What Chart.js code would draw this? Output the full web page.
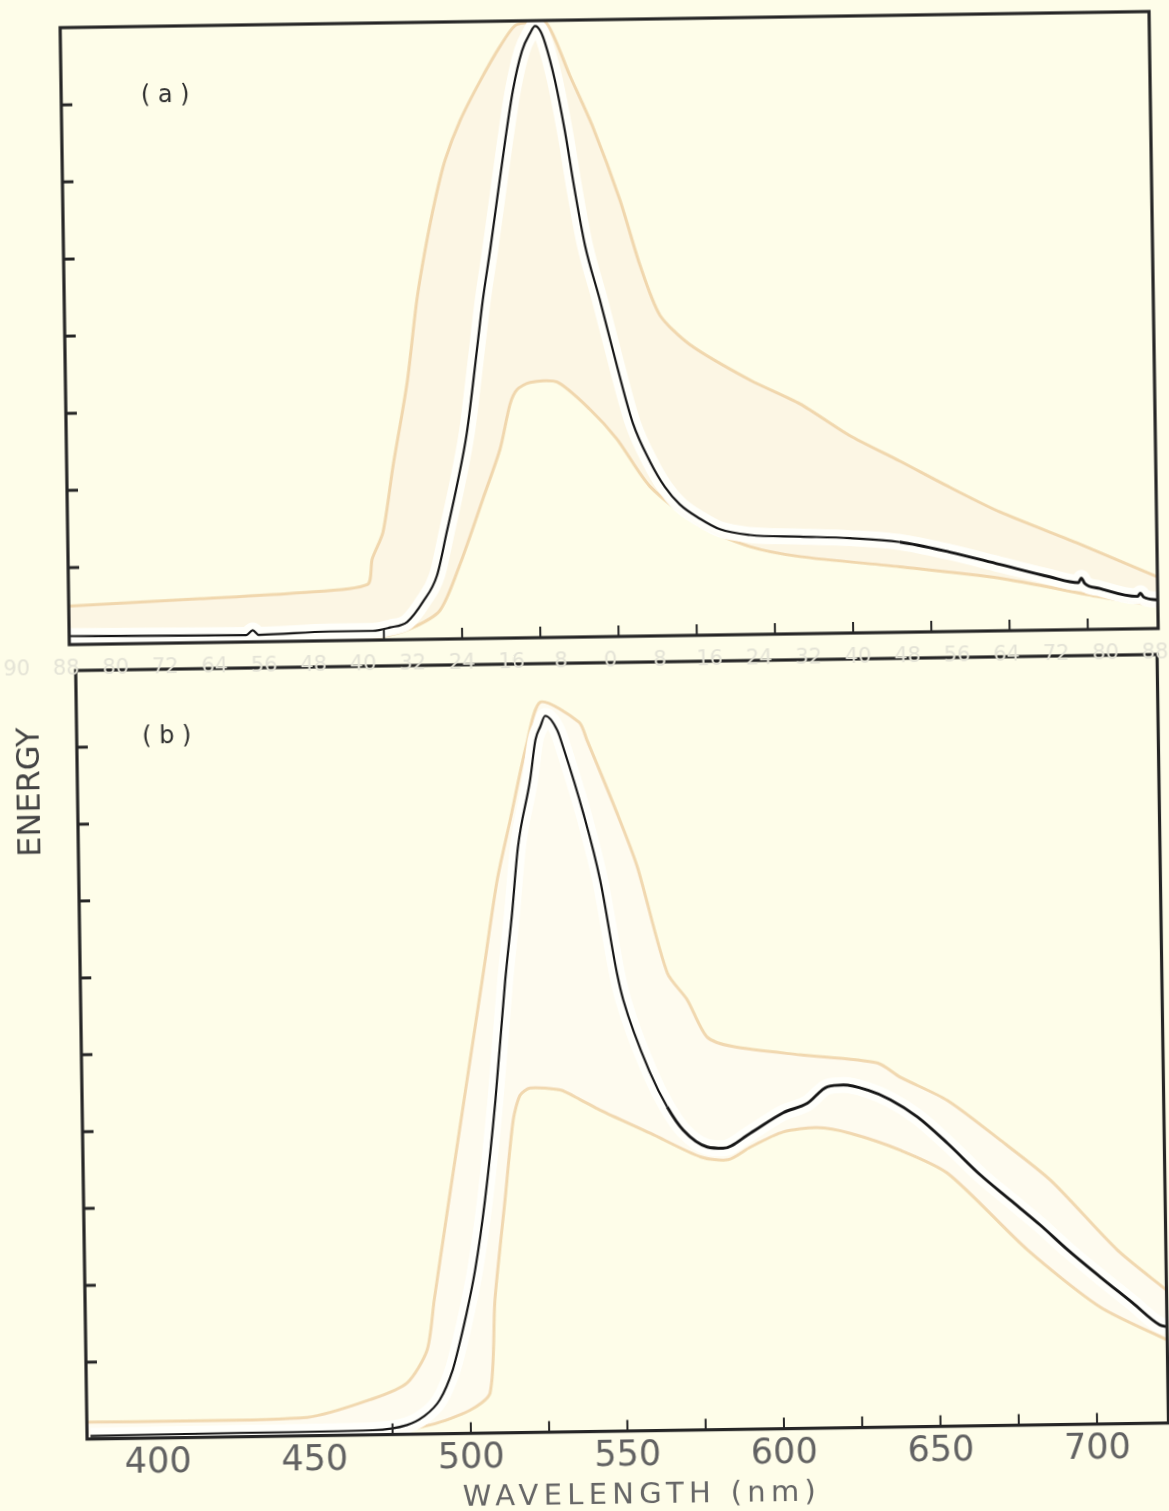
<!DOCTYPE html>
<html>
<head>
<meta charset="utf-8">
<script src="https://cdn.jsdelivr.net/npm/chart.js@4.4.1/dist/chart.umd.min.js"></script>
<style>
  body { margin: 0; background: #fefde9; }
  #fig { position: relative; width: 1169px; height: 1511px; transform: rotate(-0.85deg); transform-origin: 584px 755px; }
  canvas { position: absolute; left: 0; top: 0; }
  .lab { position: absolute; transform: translate(-50%, -50%); font-family: "DejaVu Sans", sans-serif; white-space: pre; }
  .ghost { position: absolute; transform: translate(-50%, -50%); font-family: "DejaVu Sans", sans-serif; font-size: 21px; color: #e4e3d6; }
</style>
</head>
<body>
<div id="fig">
  <canvas id="chartA" width="1169" height="660"></canvas>
  <canvas id="chartB" width="1169" height="1511"></canvas>
  <div class="lab" style="left:175px;top:88px;font-size:24px;color:#2e2e2e">( a )</div>
  <div class="lab" style="left:167px;top:729px;font-size:24px;color:#2e2e2e">( b )</div>
  <div class="lab" style="left:28px;top:784px;font-size:32px;color:#444;transform:translate(-50%,-50%) rotate(-90deg)">ENERGY</div>
  <div class="lab" style="left:631px;top:1494px;font-size:29px;color:#666;letter-spacing:5.3px">WAVELENGTH (nm)</div>
</div>
<script>
// panel (a)
const aWavelength = [374.6, 400.2, 431.0, 433.1, 435.0, 457.7, 471.5, 477.0, 482.5, 487.7, 492.2, 495.6, 499.0, 502.5, 506.1, 508.2, 510.8, 513.2, 516.1, 518.8, 521.9, 524.6, 526.2, 527.8, 529.3, 532.3, 535.2, 538.1, 541.1, 545.6, 550.8, 555.6, 560.9, 565.5, 570.2, 576.6, 582.9, 592.5, 608.5, 624.4, 640.3, 656.3, 672.2, 688.1, 697.2, 698.2, 699.2, 704.0, 716.0, 717.0, 718.0, 722.5];
const aEnergy = [0.11, 0.10, 0.09, 0.15, 0.09, 0.12, 0.12, 0.16, 0.23, 0.49, 0.82, 1.39, 1.98, 2.68, 3.75, 4.39, 5.04, 5.68, 6.45, 7.10, 7.61, 7.84, 7.93, 7.87, 7.71, 7.22, 6.57, 5.79, 5.08, 4.37, 3.50, 2.76, 2.26, 1.93, 1.70, 1.51, 1.37, 1.29, 1.26, 1.23, 1.17, 1.03, 0.86, 0.69, 0.61, 0.67, 0.60, 0.53, 0.42, 0.46, 0.41, 0.37];
const aUpperWl = [374.4, 416.4, 448.4, 469.9, 471.6, 475.2, 478.7, 483.6, 487.1, 490.0, 493.4, 496.8, 501.8, 508.4, 515.0, 519.8, 524.6, 530.0, 537.1, 544.2, 552.5, 558.6, 564.7, 574.2, 593.2, 609.1, 624.8, 640.7, 656.6, 672.5, 697.8, 722.5];
const aUpperEn = [0.50, 0.57, 0.63, 0.72, 1.05, 1.40, 2.25, 3.33, 4.40, 5.05, 5.69, 6.21, 6.72, 7.23, 7.68, 7.94, 7.98, 7.96, 7.28, 6.61, 5.66, 4.81, 4.16, 3.77, 3.30, 2.98, 2.56, 2.22, 1.87, 1.54, 1.11, 0.67];
const aLowerWl = [374.4, 460.9, 473.7, 483.4, 493.0, 499.7, 507.3, 513.0, 516.4, 518.7, 522.9, 531.5, 541.9, 550.4, 560.7, 576.5, 592.4, 608.4, 640.2, 672.2, 704.0, 722.5];
const aLowerEn = [0, 0, 0.04, 0.14, 0.37, 0.97, 1.81, 2.45, 3.03, 3.22, 3.31, 3.31, 2.95, 2.56, 1.94, 1.42, 1.14, 1.00, 0.85, 0.68, 0.42, 0.29];

// panel (b)
const bWavelength = [378.5, 426.3, 468.7, 479.6, 484.7, 490.2, 494.5, 496.3, 498.7, 502.1, 505.6, 509.4, 513.1, 515.6, 517.8, 522.0, 523.9, 525.5, 527.1, 530.9, 532.7, 538.8, 543.9, 548.8, 550.7, 559.0, 564.2, 569.3, 576.8, 581.9, 590.6, 601.2, 609.0, 615.5, 620.6, 628.2, 635.5, 644.1, 653.6, 664.0, 673.4, 682.8, 691.5, 701.8, 711.9, 720.4, 722.8];
const bEnergy = [0.04, 0.05, 0.06, 0.12, 0.22, 0.44, 0.83, 1.09, 1.48, 2.12, 3.03, 4.33, 5.89, 6.76, 7.62, 8.49, 9.01, 9.18, 9.32, 9.13, 8.91, 8.05, 7.17, 5.96, 5.61, 4.65, 4.21, 3.90, 3.68, 3.66, 3.85, 4.11, 4.23, 4.44, 4.46, 4.39, 4.26, 4.03, 3.68, 3.26, 2.93, 2.60, 2.27, 1.91, 1.57, 1.28, 1.25];
const bUpperWl = [377.4, 447.8, 468.9, 479.9, 486.4, 488.9, 494.1, 499.4, 506.1, 511.0, 515.5, 520.9, 525.7, 537.9, 540.3, 549.6, 555.8, 564.9, 571.1, 577.3, 585.6, 607.0, 631.5, 638.8, 653.7, 670.5, 686.3, 707.3, 722.8];
const bUpperEn = [0.22, 0.24, 0.47, 0.67, 1.09, 1.74, 3.04, 4.34, 5.98, 7.19, 7.98, 8.93, 9.50, 9.23, 9.00, 8.04, 7.34, 5.95, 5.60, 5.11, 4.98, 4.86, 4.74, 4.55, 4.24, 3.71, 3.18, 2.26, 1.73];
const bLowerWl = [377.4, 468.9, 487.3, 499.8, 506.3, 508.3, 512.0, 515.0, 517.3, 520.5, 530.1, 536.5, 542.8, 558.7, 574.8, 583.4, 590.6, 601.1, 612.0, 622.6, 638.5, 653.5, 678.6, 701.6, 722.8];
const bLowerEn = [0, 0, 0.12, 0.30, 0.52, 1.73, 3.03, 4.07, 4.39, 4.48, 4.45, 4.32, 4.18, 3.87, 3.55, 3.51, 3.67, 3.86, 3.91, 3.83, 3.60, 3.29, 2.28, 1.52, 1.08];

// axes
const xTicks = [475, 500, 525, 550, 575, 600, 625, 650, 675, 700];
const xTickLabels = [400, 450, 500, 550, 600, 650, 700];
const aYTicks = [1, 2, 3, 4, 5, 6, 7];
const bYTicks = [1, 2, 3, 4, 5, 6, 7, 8, 9];
const ghostLabels = ['90', '88', '80', '72', '64', '56', '48', '40', '32', '24', '16', '8', '0', '8', '16', '24', '32', '40', '48', '56', '64', '72', '80', '88'];

const pts = (xs, ys) => xs.map((x, i) => ({ x: x, y: ys[i] }));

// frame + inward ticks, placed with the chart's own scales
const framePlugin = {
  id: 'frame',
  afterDatasetsDraw(chart, args, opts) {
    const { ctx, chartArea: a, scales } = chart;
    ctx.save();
    ctx.strokeStyle = '#262626';
    ctx.lineWidth = 3.2;
    ctx.strokeRect(a.left, a.top, a.right - a.left, a.bottom - a.top);
    ctx.lineWidth = 3;
    ctx.beginPath();
    opts.yTicks.forEach(v => {
      const py = scales.y.getPixelForValue(v);
      ctx.moveTo(a.left, py); ctx.lineTo(a.left + 11, py);
    });
    ctx.stroke();
    ctx.lineWidth = 2;
    ctx.beginPath();
    opts.xTicks.forEach(v => {
      const px = scales.x.getPixelForValue(v);
      ctx.moveTo(px, a.bottom); ctx.lineTo(px, a.bottom - 11);
    });
    ctx.stroke();
    ctx.restore();
  }
};

// lower "order" is drawn on top; noisy part of the trace drawn a bit heavier
function makeDatasets(upWl, upEn, loWl, loEn, wl, en, bandColor, noisyFrom) {
  return [
    { order: 4, data: pts(upWl, upEn), borderColor: 'rgba(232,192,135,0.6)', borderWidth: 3, backgroundColor: bandColor, fill: '+1', tension: 0.25 },
    { order: 3, data: pts(loWl, loEn), borderColor: 'rgba(232,192,135,0.6)', borderWidth: 3, fill: false, tension: 0.25 },
    { order: 2, data: pts(wl, en), borderColor: 'rgba(255,255,251,0.95)', borderWidth: 16, fill: false, cubicInterpolationMode: 'monotone' },
    { order: 1, data: pts(wl, en), borderColor: '#161616', borderWidth: 2.2, fill: false, cubicInterpolationMode: 'monotone',
      segment: { borderWidth: c => (c.p0.parsed.x >= noisyFrom ? 2.9 : 2.2) } }
  ];
}

const common = {
  responsive: false,
  animation: false,
  events: [],
  elements: { point: { radius: 0 } },
  plugins: { legend: { display: false }, tooltip: { enabled: false } }
};

new Chart(document.getElementById('chartA'), {
  type: 'line',
  data: { datasets: makeDatasets(aUpperWl, aUpperEn, aLowerWl, aLowerEn, aWavelength, aEnergy, '#fcf6e4', 640) },
  options: {
    ...common,
    layout: { padding: { left: 71, right: 9, top: 20, bottom: 23 } },
    scales: {
      x: { type: 'linear', min: 374.4, max: 722.5, display: false },
      y: { min: 0, max: 8, display: false }
    },
    plugins: { ...common.plugins, frame: { xTicks: xTicks, yTicks: aYTicks } }
  },
  plugins: [framePlugin]
});

new Chart(document.getElementById('chartB'), {
  type: 'line',
  data: { datasets: makeDatasets(bUpperWl, bUpperEn, bLowerWl, bLowerEn, bWavelength, bEnergy, '#fefbef', 560) },
  options: {
    ...common,
    layout: { padding: { left: 77, right: 10.5, top: 663, bottom: 19.4 } },
    scales: {
      x: {
        type: 'linear', min: 377.4, max: 722.8,
        grid: { display: false, drawTicks: false },
        border: { display: false },
        afterBuildTicks: s => { s.ticks = xTickLabels.map(v => ({ value: v })); },
        afterFit: s => { s.height = 60; },
        ticks: { color: '#626262', font: { family: 'DejaVu Sans', size: 35 }, padding: 4, maxRotation: 0, autoSkip: false }
      },
      y: { min: 0, max: 10, display: false }
    },
    plugins: { ...common.plugins, frame: { xTicks: xTicks, yTicks: bYTicks } }
  },
  plugins: [framePlugin]
});

// faint show-through numbers between the panels
const fig = document.getElementById('fig');
ghostLabels.forEach((t, i) => {
  const d = document.createElement('div');
  d.className = 'ghost';
  d.textContent = t;
  d.style.left = (18 + i * 49.5) + 'px';
  d.style.top = '660px';
  fig.appendChild(d);
});
</script>
</body>
</html>
